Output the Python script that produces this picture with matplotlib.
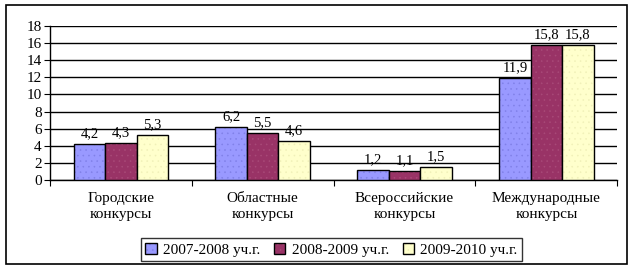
import numpy as np
import matplotlib
matplotlib.use("Agg")
import matplotlib.pyplot as plt
from matplotlib.patches import Rectangle

plt.rcParams['font.family'] = ['Liberation Serif', 'DejaVu Serif']
plt.rcParams['hatch.linewidth'] = 0.4

categories = ["Городские\nконкурсы", "Областные\nконкурсы",
              "Всероссийские\nконкурсы", "Международные\nконкурсы"]
series_names = ["2007-2008 уч.г.", "2008-2009 уч.г.", "2009-2010 уч.г."]
v_2007 = [4.2, 6.2, 1.2, 11.9]
v_2008 = [4.3, 5.5, 1.1, 15.8]
v_2009 = [5.3, 4.6, 1.5, 15.8]
colors = ["#9999FF", "#993366", "#FFFFCC"]
hatch_colors = ["#8080e8", "#a84a78", "#f0f0b8"]

fig = plt.figure(figsize=(6.36, 2.71), dpi=100)
ax = fig.add_axes([0.0786, 0.336, 0.892, 0.568])

# рамка вокруг всей диаграммы
fig.patches.append(Rectangle((6 / 636, 1 - 264 / 271), 621 / 636, 259 / 271,
                             transform=fig.transFigure, fill=False,
                             edgecolor='black', linewidth=1.2))

x = np.arange(len(categories))
w = 1 / 4.5
for i, vals in enumerate([v_2007, v_2008, v_2009]):
    pos = x + (i - 1) * w
    bars = ax.bar(pos, vals, w, color=colors[i], edgecolor='black',
                  linewidth=1.0, label=series_names[i], zorder=3)
    for b in bars:
        b.set_hatch('...')
        b._hatch_color = matplotlib.colors.to_rgba(hatch_colors[i])
    for p, v in zip(pos, vals):
        ax.text(p, v + 0.45, f"{v:.1f}".replace('.', ','), ha='center',
                va='bottom', fontsize=10.5)

ax.set_xlim(-0.5, 3.5)
ax.set_ylim(0, 18)
ax.set_yticks(range(0, 19, 2))
ax.yaxis.grid(True, color='black', linewidth=1.0, zorder=0)
ax.set_axisbelow(True)
ax.set_xticks([-0.5, 0.5, 1.5, 2.5, 3.5])
ax.set_xticklabels([])
ax.set_xticks(x, minor=True)
ax.set_xticklabels(categories, minor=True, fontsize=11, linespacing=1.25)
ax.tick_params(axis='x', which='minor', length=0, pad=9)
ax.tick_params(axis='x', which='major', length=4, direction='out')
ax.tick_params(axis='y', labelsize=11, length=4, pad=2)
for s in ['top', 'right']:
    ax.spines[s].set_visible(False)
ax.spines['left'].set_linewidth(1.0)
ax.spines['bottom'].set_linewidth(1.0)

leg = fig.legend(loc='center', bbox_to_anchor=(0.521, 0.078), ncol=3,
                 fontsize=11, frameon=True, fancybox=False,
                 handlelength=0.75, handleheight=0.75, handletextpad=0.4,
                 columnspacing=0.9, borderpad=0.3)
leg.get_frame().set_edgecolor('black')
leg.get_frame().set_linewidth(1.0)

fig.savefig("out.png", dpi=100)
